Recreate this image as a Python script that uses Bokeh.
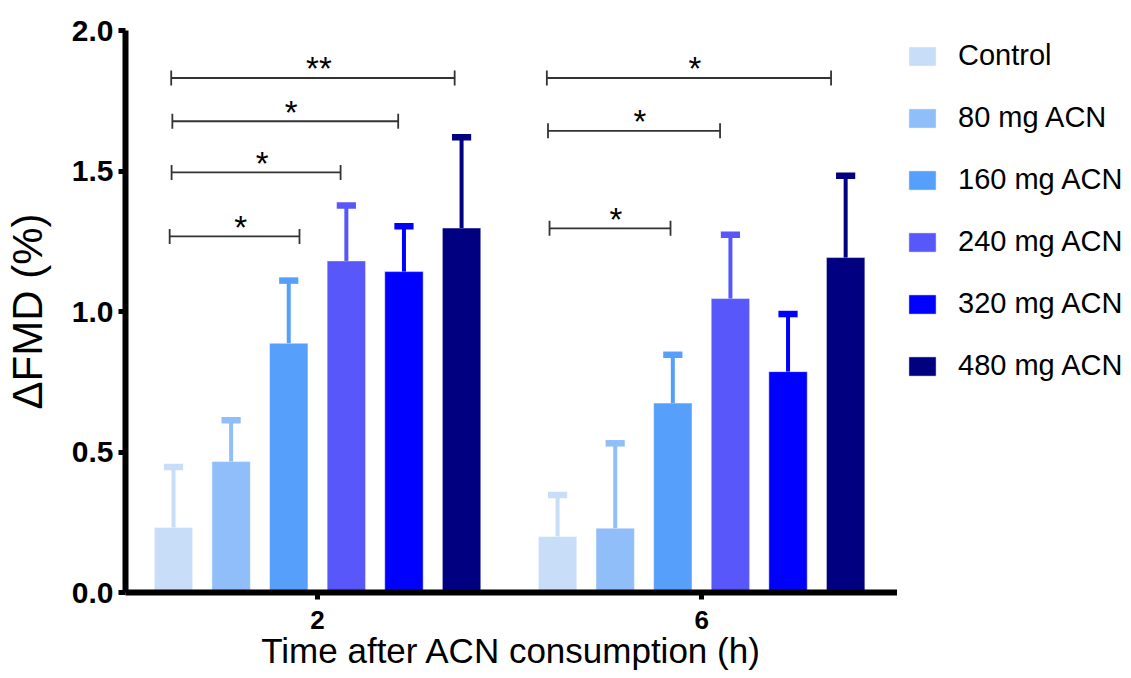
from bokeh.plotting import figure
from bokeh.models import Range1d, FixedTicker, Legend, LegendItem
from bokeh.layouts import row
from bokeh.core.properties import value
from bokeh.embed import file_html
from bokeh.resources import INLINE

# ---------------- data ----------------
times = ["2", "6"]
groups = ["Control", "80 mg ACN", "160 mg ACN", "240 mg ACN", "320 mg ACN", "480 mg ACN"]
colors = ["#C8DEF8", "#90BEF8", "#56A0FC", "#5858FA", "#0000FF", "#000080"]
mean_2h = [0.231, 0.466, 0.887, 1.180, 1.142, 1.297]
mean_6h = [0.199, 0.229, 0.674, 1.046, 0.786, 1.192]
upper_2h = [0.447, 0.613, 1.110, 1.377, 1.303, 1.620]
upper_6h = [0.347, 0.531, 0.846, 1.273, 0.991, 1.483]
y_ticks = [0.0, 0.5, 1.0, 1.5, 2.0]

# significance brackets (x in axis units: "2" h group centred at 1, "6" h group at 2)
sig_x0 = [0.619, 0.622, 0.620, 0.615, 1.597, 1.600, 1.604]
sig_x1 = [1.357, 1.210, 1.060, 0.953, 2.337, 2.048, 1.919]
sig_y = [1.831, 1.677, 1.495, 1.267, 1.831, 1.643, 1.296]
sig_label = ["**", "*", "*", "*", "*", "*", "*"]

FONT = "Liberation Sans"
group_pos = [1 + i for i in range(len(times))]
bar_step = 0.15
bar_w = 0.1

p = figure(width=897, height=678,
           x_range=Range1d(0.5, 2.51), y_range=Range1d(0, 2.0),
           output_backend="svg", toolbar_location=None,
           min_border_left=125, min_border_right=0,
           min_border_top=30, min_border_bottom=86)
p.outline_line_color = None
p.grid.visible = False
p.background_fill_color = "white"
p.border_fill_color = "white"

# legend panel (separate figure to the right of the chart; its bars are hidden
# so that only the legend shows)
lg = figure(width=234, height=678, x_range=Range1d(0.5, 2.51), y_range=Range1d(0, 2.0),
            output_backend="svg", toolbar_location=None,
            x_axis_location=None, y_axis_location=None,
            min_border_left=0, min_border_right=0, min_border_top=30, min_border_bottom=86)
lg.outline_line_color = None
lg.grid.visible = False
lg.background_fill_color = "white"
lg.border_fill_color = "white"

items = []
for i, g in enumerate(groups):
    off = (i - (len(groups) - 1) / 2) * bar_step
    xs = [gp + off for gp in group_pos]
    tops = [mean_2h[i], mean_6h[i]]
    ups = [upper_2h[i], upper_6h[i]]
    p.vbar(x=xs, top=tops, bottom=0, width=bar_w, fill_color=colors[i],
           line_color="white", line_alpha=0.45, line_width=1)
    p.segment(x0=xs, y0=tops, x1=xs, y1=ups, line_color=colors[i], line_width=4)
    p.rect(x=xs, y=ups, width=0.05, height=6.5, height_units="screen",
           fill_color=colors[i], line_color=None)
    r = lg.vbar(x=xs, top=tops, bottom=0, width=bar_w, fill_color=colors[i],
                line_color="white", line_alpha=0.45, line_width=1, visible=False)
    items.append(LegendItem(label=g, renderers=[r]))

# significance brackets
mids = [(a + b) / 2 for a, b in zip(sig_x0, sig_x1)]
p.segment(x0=sig_x0, y0=sig_y, x1=sig_x1, y1=sig_y, line_color="#333333", line_width=1.8)
p.rect(x=sig_x0, y=sig_y, width=1.8, width_units="screen", height=15, height_units="screen",
       fill_color="#333333", line_color=None)
p.rect(x=sig_x1, y=sig_y, width=1.8, width_units="screen", height=15, height_units="screen",
       fill_color="#333333", line_color=None)
p.text(x=mids, y=sig_y, text=sig_label, text_align="center", text_baseline="middle",
       x_offset=6, y_offset=-9, text_font=value(FONT), text_font_size="33px",
       text_color="black")

# axes
xa = p.xaxis[0]
xa.ticker = FixedTicker(ticks=group_pos)
xa.major_label_overrides = {gp: t for gp, t in zip(group_pos, times)}
xa.axis_line_width = 6
xa.axis_line_color = "black"
xa.major_tick_line_width = 5
xa.major_tick_out = 7
xa.major_tick_in = 0
xa.minor_tick_line_color = None
xa.major_label_text_font = FONT
xa.major_label_text_font_style = "bold"
xa.major_label_text_font_size = "26px"
xa.major_label_text_color = "black"
xa.major_label_standoff = 11
xa.axis_label = "Time after ACN consumption (h)"
xa.axis_label_text_font = FONT
xa.axis_label_text_font_style = "normal"
xa.axis_label_text_font_size = "35px"
xa.axis_label_text_color = "black"
xa.axis_label_standoff = -1

ya = p.yaxis[0]
ya.ticker = FixedTicker(ticks=y_ticks)
ya.major_label_overrides = {t: f"{t:.1f}" for t in y_ticks}
ya.axis_line_width = 6
ya.axis_line_color = "black"
ya.major_tick_line_width = 5
ya.major_tick_out = 7
ya.major_tick_in = 0
ya.minor_tick_line_color = None
ya.major_label_text_font = FONT
ya.major_label_text_font_style = "bold"
ya.major_label_text_font_size = "30px"
ya.major_label_text_color = "black"
ya.major_label_standoff = 5
ya.axis_label = "\u0394FMD (%)"
ya.axis_label_text_font = FONT
ya.axis_label_text_font_style = "normal"
ya.axis_label_text_font_size = "42px"
ya.axis_label_text_color = "black"
ya.axis_label_standoff = 18

legend = Legend(items=items, location=(8, 210), orientation="vertical",
                glyph_width=34, glyph_height=24, label_standoff=19,
                label_text_font=FONT, label_text_font_size="29px", label_text_color="black",
                label_height=24, spacing=29, padding=0, margin=0,
                inactive_fill_alpha=0,
                border_line_color=None, background_fill_alpha=0)
lg.add_layout(legend)

layout = row(p, lg, spacing=0)
open("out.html", "w").write(file_html(layout, INLINE))
